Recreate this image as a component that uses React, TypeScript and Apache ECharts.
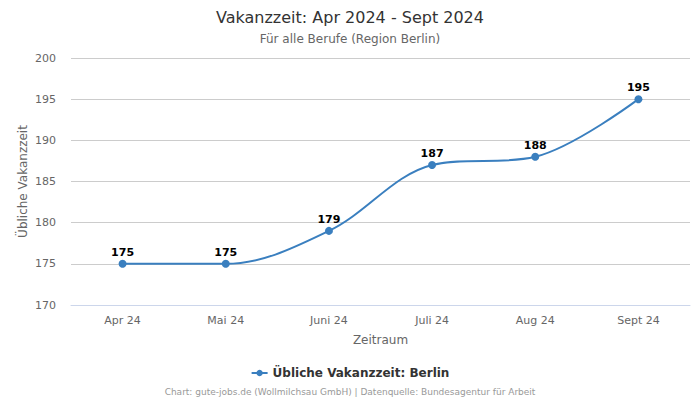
import React, { useEffect, useRef } from "react";
import * as echarts from "echarts";

const categories = ["Apr 24", "Mai 24", "Juni 24", "Juli 24", "Aug 24", "Sept 24"];
const values = [175, 175, 179, 187, 188, 195];
const seriesName = "Übliche Vakanzzeit: Berlin";
const FONT = "DejaVu Sans, sans-serif";

export default function App() {
  const ref = useRef<HTMLDivElement>(null);
  useEffect(() => {
    const chart = echarts.init(ref.current!, null, { renderer: "svg" });
    chart.setOption({
      animation: false,
      textStyle: { fontFamily: FONT },
      title: [
        {
          text: "Vakanzzeit: Apr 2024 - Sept 2024",
          left: "center",
          top: 4,
          textStyle: { fontSize: 16, fontWeight: "normal", color: "#333", fontFamily: FONT },
        },
        {
          text: "Für alle Berufe (Region Berlin)",
          left: "center",
          top: 28,
          textStyle: { fontSize: 12, fontWeight: "normal", color: "#666", fontFamily: FONT },
        },
        {
          text: "Chart: gute-jobs.de (Wollmilchsau GmbH) | Datenquelle: Bundesagentur für Arbeit",
          left: "center",
          top: 382,
          textStyle: { fontSize: 9, fontWeight: "normal", color: "#999", fontFamily: FONT },
        },
      ],
      legend: {
        data: [seriesName],
        top: 362,
        left: "center",
        itemWidth: 16,
        itemHeight: 8,
        textStyle: { fontSize: 12, fontWeight: "bold", color: "#333", fontFamily: FONT },
      },
      grid: { left: 71, right: 10, top: 58, bottom: 95 },
      xAxis: {
        type: "category",
        data: categories,
        boundaryGap: true,
        name: "Zeitraum",
        nameLocation: "middle",
        nameGap: 29,
        nameTextStyle: { fontSize: 12, color: "#666", fontFamily: FONT },
        axisLine: { lineStyle: { color: "#ccd6eb" } },
        axisTick: { show: false },
        axisLabel: { fontSize: 11, color: "#666", margin: 10, fontFamily: FONT },
      },
      yAxis: {
        type: "value",
        min: 170,
        max: 200,
        interval: 5,
        name: "Übliche Vakanzzeit",
        nameLocation: "middle",
        nameGap: 42,
        nameMoveOverlap: false,
        nameTextStyle: { fontSize: 12, color: "#666", fontFamily: FONT },
        axisLine: { show: false },
        axisTick: { show: false },
        splitLine: { lineStyle: { color: "#cccccc" } },
        axisLabel: { fontSize: 11, color: "#666", margin: 15, fontFamily: FONT },
      },
      series: [
        {
          name: seriesName,
          type: "line",
          data: values,
          smooth: 0.35,
          symbol: "circle",
          symbolSize: 8,
          color: "#3a7fbf",
          lineStyle: { width: 2, color: "#3a7fbf" },
          itemStyle: { color: "#3a7fbf" },
          label: {
            show: true,
            position: "top",
            distance: 2,
            fontSize: 11,
            fontWeight: "bold",
            color: "#000",
            fontFamily: FONT,
          },
        },
      ],
    });
    return () => chart.dispose();
  }, []);
  return <div ref={ref} style={{ width: 700, height: 400, position: "absolute", left: 0, top: 0 }} />;
}
